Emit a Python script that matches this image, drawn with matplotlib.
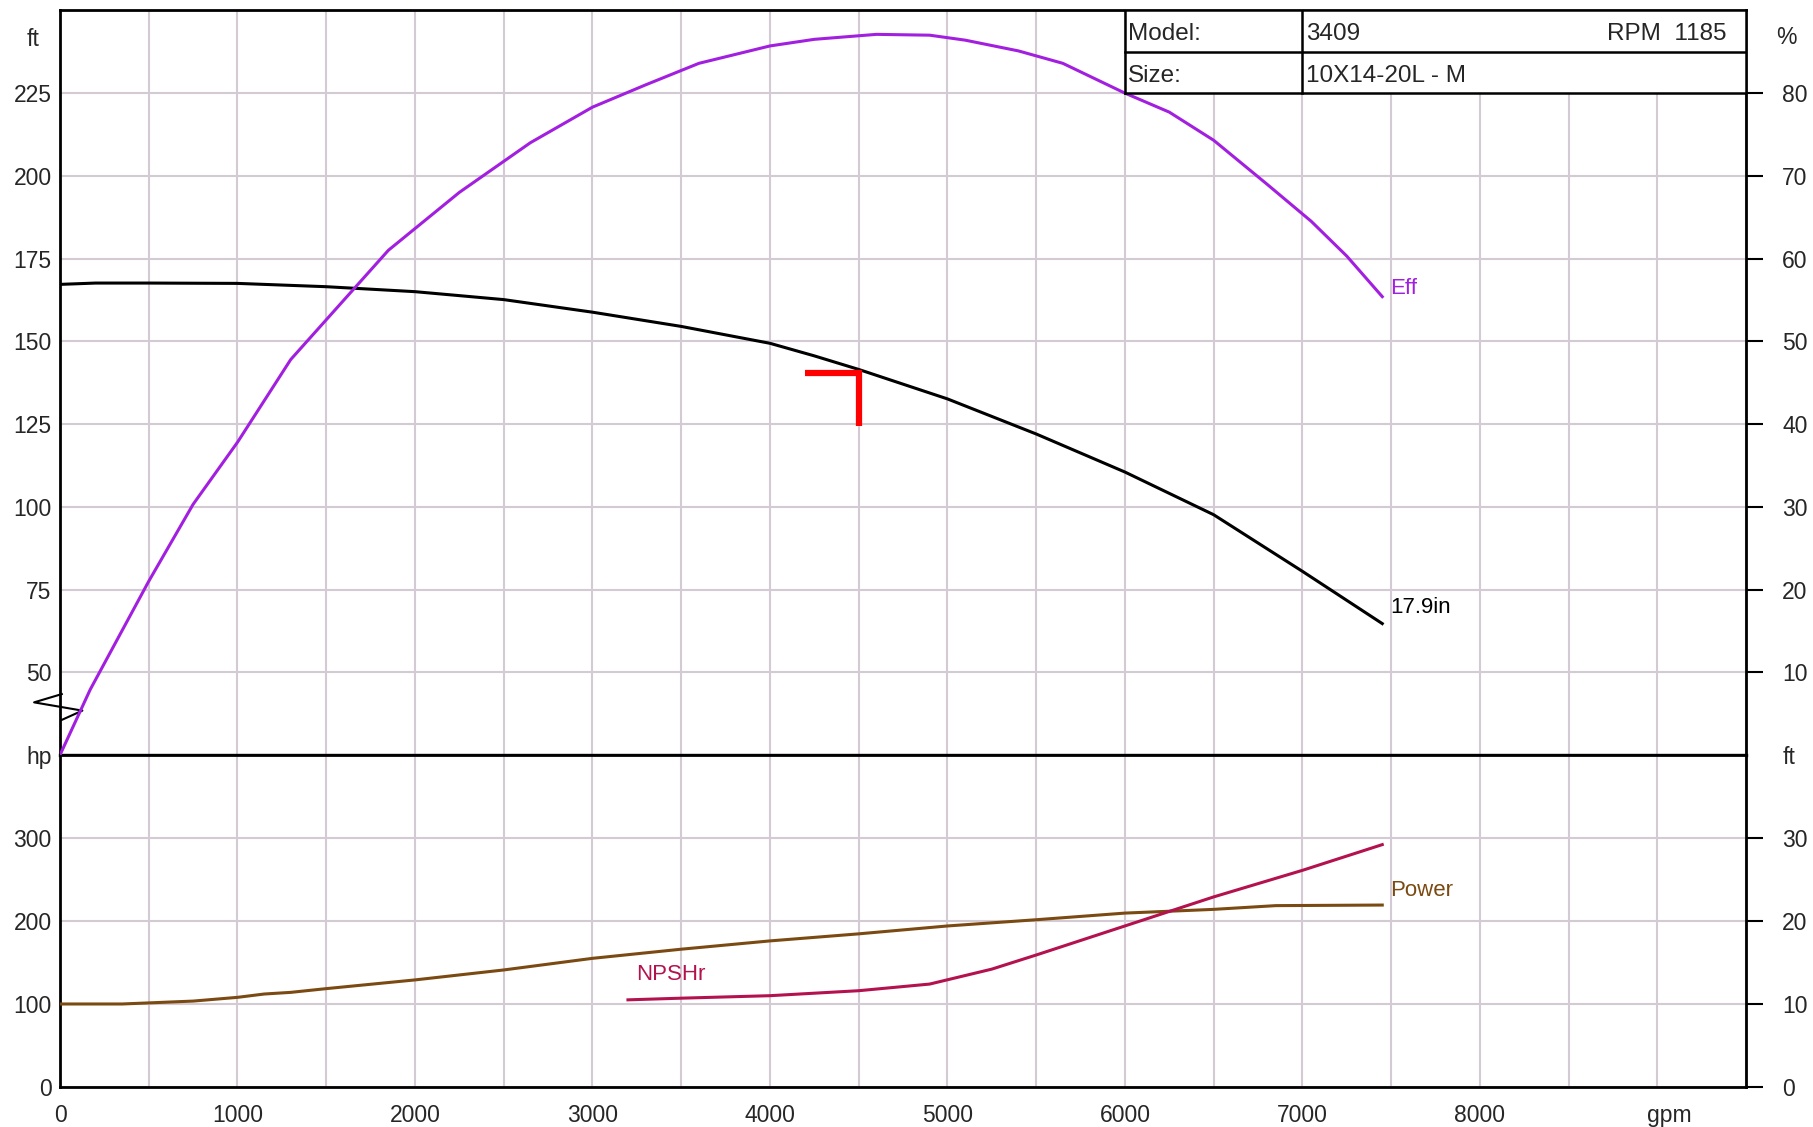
import matplotlib
matplotlib.use("Agg")
import matplotlib.pyplot as plt
from matplotlib.patches import Rectangle

# --- pump curve data (flow in gpm) ---
flow_head = [0, 200, 500, 1000, 1500, 2000, 2500, 3000, 3500, 4000, 4250, 4500,
             5000, 5500, 6000, 6500, 7000, 7450]
head_ft = [167.2, 167.6, 167.6, 167.5, 166.5, 165.0, 162.6, 158.8, 154.5, 149.4,
           145.6, 141.5, 132.6, 122.0, 110.5, 97.6, 80.5, 64.7]

flow_eff = [0, 170, 500, 750, 1000, 1300, 1600, 1850, 2250, 2650, 3000, 3300,
            3600, 4000, 4250, 4600, 4900, 5100, 5400, 5650, 6000, 6250, 6500,
            6800, 7050, 7250, 7450]
eff_pct = [0, 7.9, 21.0, 30.3, 37.8, 47.8, 55.0, 61.0, 68.0, 74.0, 78.3, 81.0,
           83.6, 85.7, 86.5, 87.1, 87.0, 86.4, 85.1, 83.6, 80.0, 77.7, 74.3,
           69.0, 64.5, 60.3, 55.4]

flow_power = [0, 350, 750, 1000, 1150, 1300, 1500, 2000, 2500, 3000, 3500, 4000,
              4500, 5000, 5500, 6000, 6500, 6850, 7450]
power_hp = [100, 100, 103.5, 108, 112, 114, 118.5, 129, 141, 155, 166, 176,
            184.5, 194, 201.5, 209.5, 214, 218.5, 219.2]

flow_npsh = [3200, 3500, 4000, 4500, 4900, 5250, 5500, 6000, 6500, 7000, 7450]
npshr_ft = [10.5, 10.7, 11.0, 11.6, 12.4, 14.2, 15.9, 19.4, 22.9, 26.1, 29.2]

# shutoff marker drawn at the head axis
shutoff_x = [10, -146, 126, 10]
shutoff_y = [43.4, 40.9, 38.4, 35.6]

duty_flow, duty_head = 4500, 140.5

model = "3409"
rpm = "1185"
pump_size = "10X14-20L - M"
impeller = "17.9in"

flow_labels = [0, 1000, 2000, 3000, 4000, 5000, 6000, 7000, 8000]
head_ticks = [25, 50, 75, 100, 125, 150, 175, 200, 225, 250]
eff_ticks = [10, 20, 30, 40, 50, 60, 70, 80]
power_ticks = [0, 100, 200, 300, 400]
npsh_ticks = [0, 10, 20, 30, 40]

GRID = "#d3cad3"
TXT = "#262626"
EFF_C = "#a21fe0"
POW_C = "#7b4a12"
NPSH_C = "#b3124e"
FS = 16.5
FS_BOX = 17.5

plt.rcParams["font.family"] = ["Liberation Sans", "DejaVu Sans"]

fig = plt.figure(figsize=(18.13, 11.27), dpi=100)
ax_h = fig.add_axes([0.0331, 0.3301, 0.9300, 0.6607])
ax_p = fig.add_axes([0.0331, 0.0355, 0.9300, 0.2946])
ax_e = ax_h.twinx()
ax_n = ax_p.twinx()

grid_x = list(range(0, 9501, 500))
for ax in (ax_h, ax_p):
    ax.set_xlim(0, 9500)
    ax.set_xticks(grid_x)
    ax.grid(True, color=GRID, lw=1.5, zorder=0)
    ax.set_axisbelow(True)
    for s in ax.spines.values():
        s.set_linewidth(2)
        s.set_color("black")

ax_h.set_ylim(25, 250)
ax_h.set_yticks(head_ticks)
ax_h.set_yticklabels([""] + [str(v) for v in head_ticks[1:-1]] + [""])
ax_h.tick_params(axis="y", length=0, pad=6, labelsize=FS, labelcolor=TXT)
ax_h.tick_params(axis="x", length=0, labelbottom=False)
ax_h.spines["bottom"].set_linewidth(2.4)

ax_e.set_ylim(0, 90)
ax_e.set_yticks(eff_ticks)
ax_e.tick_params(axis="y", length=12, width=1.5, pad=14, labelsize=FS, labelcolor=TXT)
for s in ax_e.spines.values():
    s.set_visible(False)

ax_p.set_ylim(0, 400)
ax_p.set_yticks(power_ticks)
ax_p.set_yticklabels([str(v) for v in power_ticks[:-1]] + ["hp"])
ax_p.tick_params(axis="y", length=0, pad=6, labelsize=FS, labelcolor=TXT)
ax_p.set_xticklabels([str(v) if v in flow_labels else "" for v in grid_x])
ax_p.tick_params(axis="x", length=0, pad=12, labelsize=FS, labelcolor=TXT)
ax_p.annotate("gpm", xy=(9070, 0), xycoords=("data", "axes fraction"),
              xytext=(0, -12), textcoords="offset points", ha="center", va="top",
              fontsize=FS, color=TXT)

ax_n.set_ylim(0, 40)
ax_n.set_yticks(npsh_ticks)
ax_n.set_yticklabels([str(v) for v in npsh_ticks[:-1]] + ["ft"])
ax_n.tick_params(axis="y", length=12, width=1.5, pad=14, labelsize=FS, labelcolor=TXT)
ax_n.yaxis.get_major_ticks()[-1].tick2line.set_visible(False)
for s in ax_n.spines.values():
    s.set_visible(False)

# unit captions above the top panel scales
fig.text(33 / 1813, 1 - 40 / 1127, "ft", ha="center", va="center", fontsize=FS, color=TXT)
fig.text(1786 / 1813, 1 - 38 / 1127, "%", ha="center", va="center", fontsize=FS, color=TXT)

# curves
ax_h.plot(flow_head, head_ft, color="black", lw=2.2, zorder=3)
ax_h.plot(shutoff_x, shutoff_y, color="black", lw=1.5, clip_on=False, zorder=4)
ax_h.plot([duty_flow - 300, duty_flow, duty_flow], [duty_head, duty_head, duty_head - 16],
          color="#ff0000", lw=4.5, solid_capstyle="butt", solid_joinstyle="miter", zorder=4)
ax_h.text(7495, 69.6, impeller, ha="left", va="center", fontsize=16, color="black")

ax_e.plot(flow_eff, eff_pct, color=EFF_C, lw=2.2, zorder=3)
ax_e.text(7495, 56.4, "Eff", ha="left", va="center", fontsize=16, color=EFF_C)

ax_p.plot(flow_power, power_hp, color=POW_C, lw=2.2, zorder=3)
ax_p.text(7495, 237, "Power", ha="left", va="center", fontsize=16, color=POW_C)

ax_n.plot(flow_npsh, npshr_ft, color=NPSH_C, lw=2.2, zorder=3)
ax_n.text(3246, 13.6, "NPSHr", ha="left", va="center", fontsize=16, color=NPSH_C)

# model / size box in the top right corner
ax_e.add_patch(Rectangle((6000, 80), 3500, 10, facecolor="white", edgecolor="none", zorder=5))
box = dict(color="black", lw=1.8, zorder=6)
ax_e.plot([6000, 6000], [80, 90], **box)
ax_e.plot([7000, 7000], [80, 90], **box)
ax_e.plot([6000, 9500], [85, 85], **box)
ax_e.plot([6000, 9500], [80, 80], **box)
ax_e.plot([6000, 9500], [90, 90], **box)
ax_e.plot([9500, 9500], [80, 90], **box)
cell = dict(va="center", fontsize=FS_BOX, color=TXT, zorder=7)
ax_e.text(6018, 87.1, "Model:", ha="left", **cell)
ax_e.text(7022, 87.1, model, ha="left", **cell)
ax_e.text(9390, 87.1, "RPM  " + rpm, ha="right", **cell)
ax_e.text(6018, 82.1, "Size:", ha="left", **cell)
ax_e.text(7022, 82.1, pump_size, ha="left", **cell)

fig.savefig("out.png", dpi=100)
